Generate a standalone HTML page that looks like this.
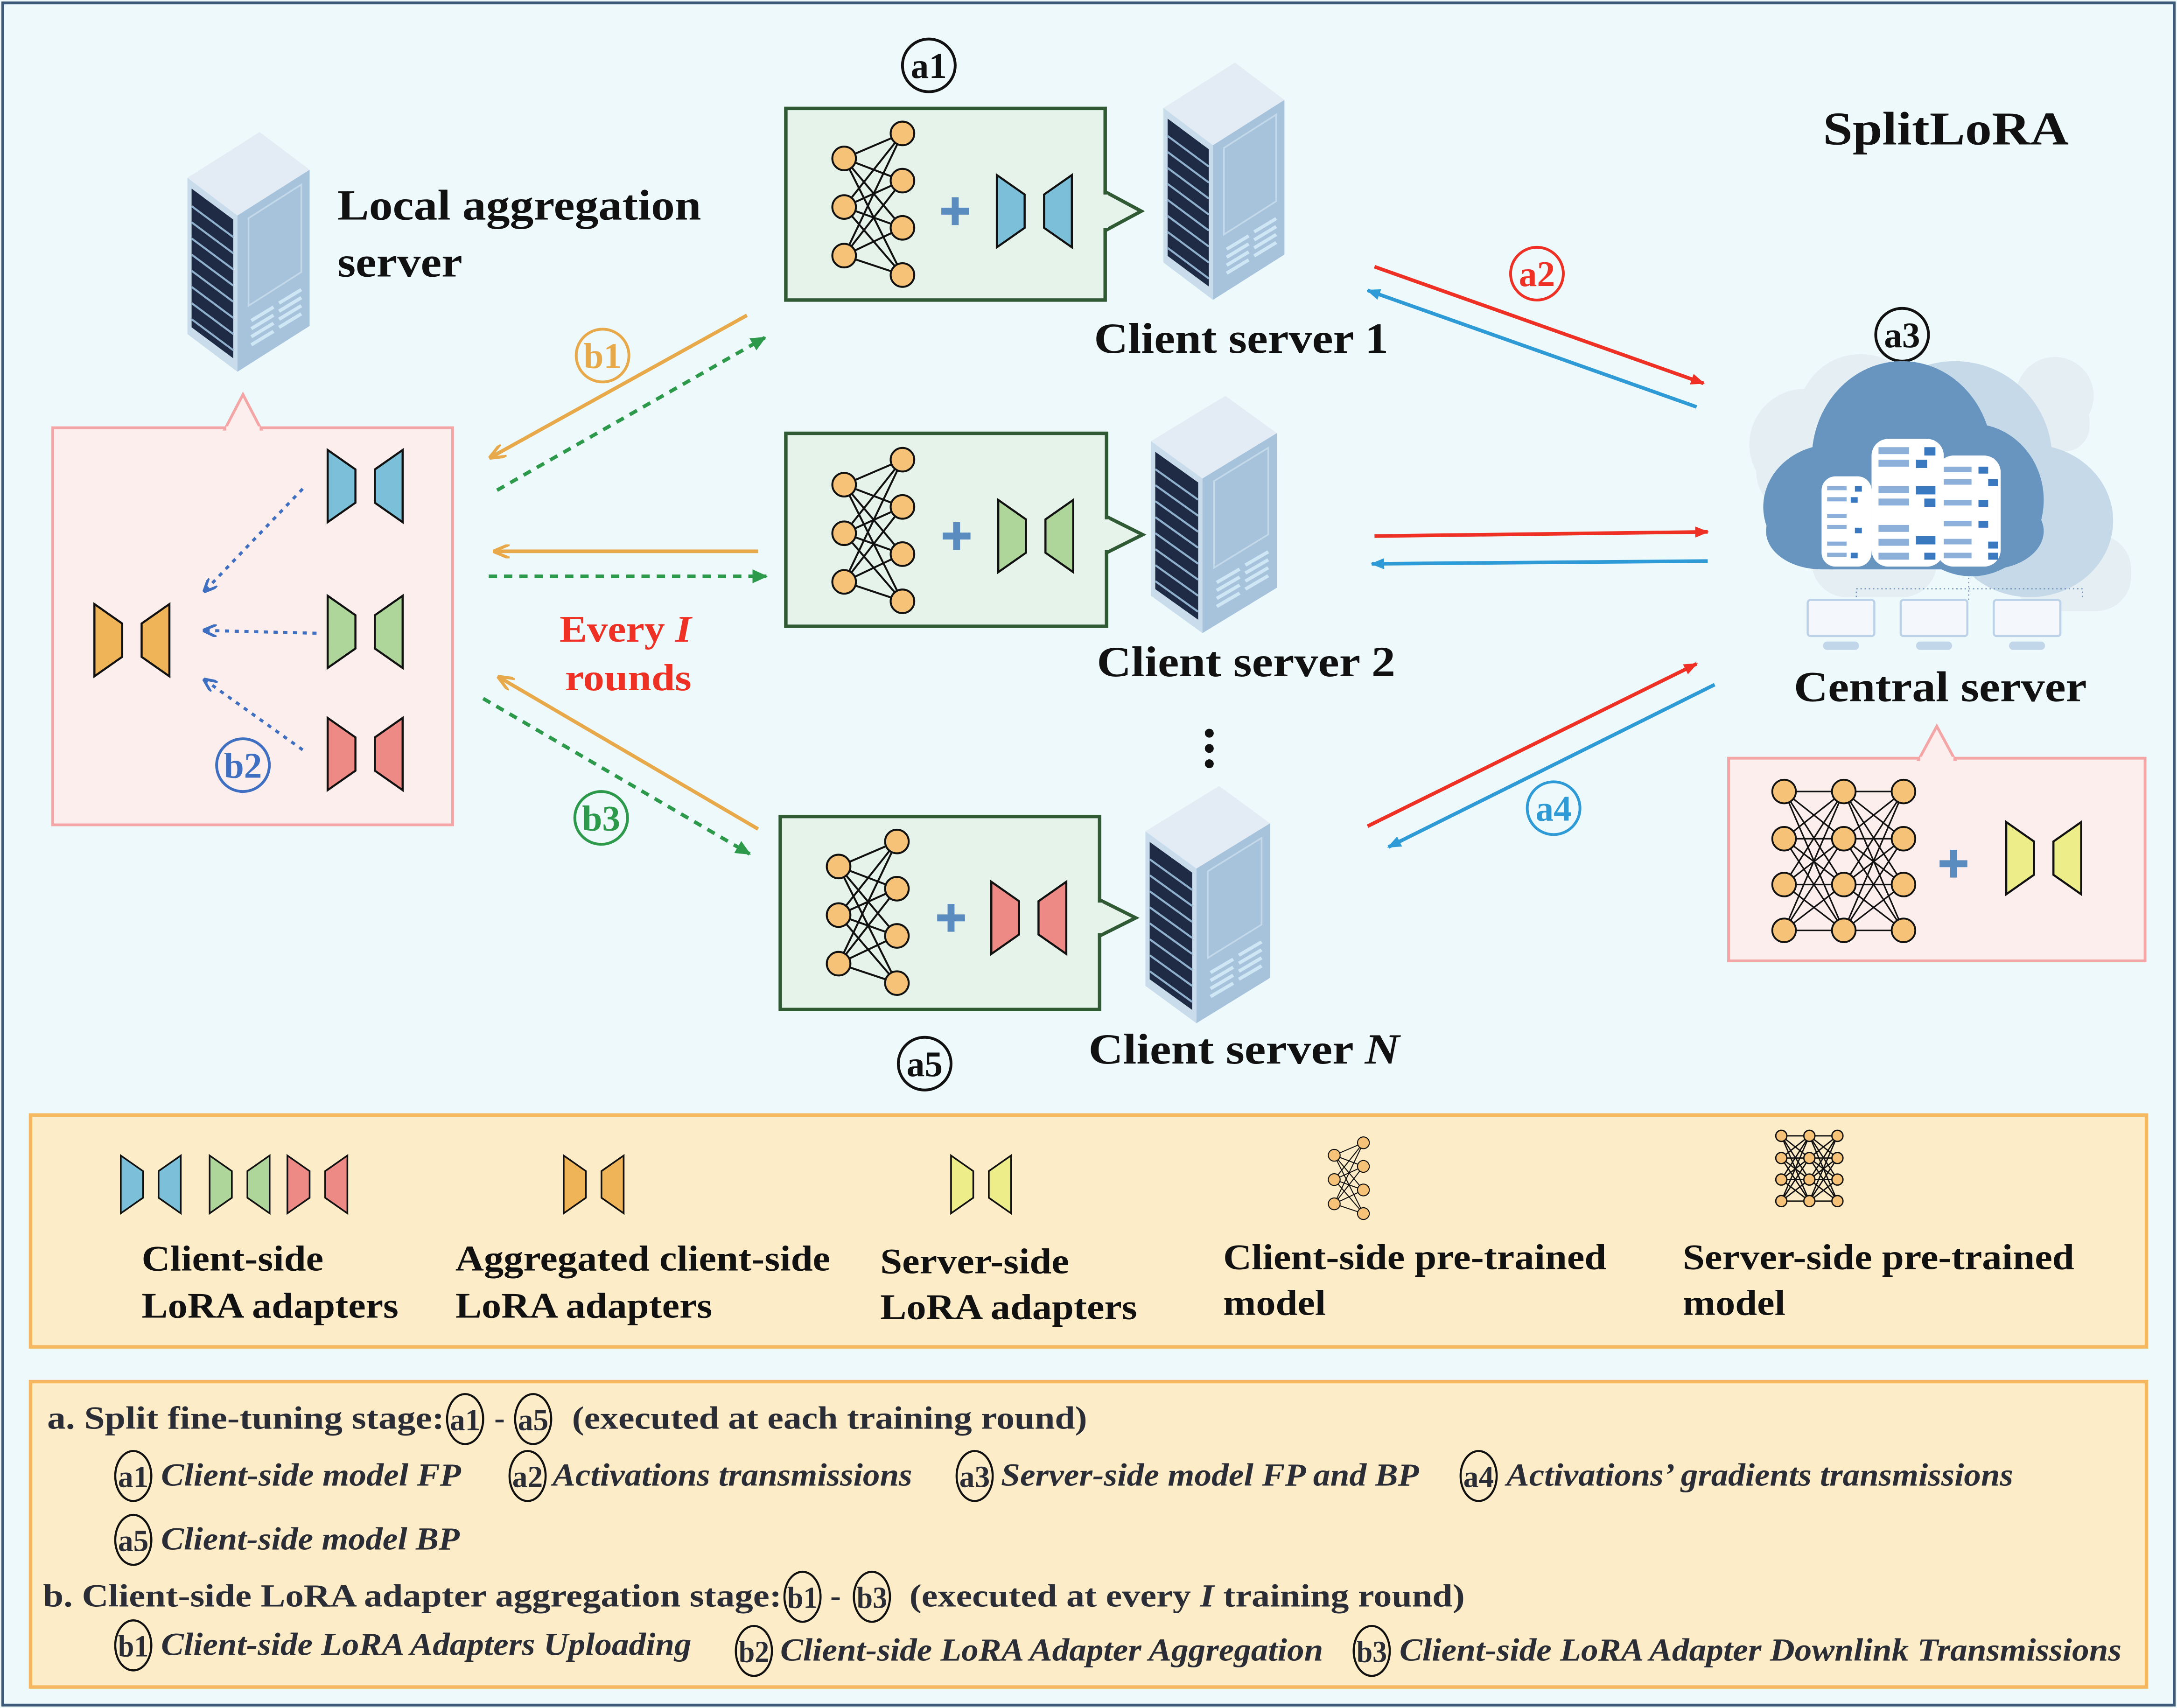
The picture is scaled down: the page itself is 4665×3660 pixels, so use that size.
<!DOCTYPE html>
<html><head><meta charset="utf-8"><style>
html,body{margin:0;padding:0;background:#eef9fb}
svg{display:block}
text{font-family:"Liberation Serif",serif;font-weight:bold}
</style></head><body>
<svg xmlns="http://www.w3.org/2000/svg" width="4665" height="3660" viewBox="0 0 1568 1230">
<defs>
<g id="srv">
  <polygon points="0,34 52,0 88,28 36,62" fill="#e3ecf4"/>
  <polygon points="0,34 36,62 36,178 0,150" fill="#c8dcec"/>
  <polygon points="3,42 33,65 33,168 3,145" fill="#1f2a44"/>
  <g stroke="#8fb0cc" stroke-width="1.5">
    <line x1="3" y1="55" x2="33" y2="78"/><line x1="3" y1="67" x2="33" y2="90"/>
    <line x1="3" y1="79" x2="33" y2="102"/><line x1="3" y1="91" x2="33" y2="114"/>
    <line x1="3" y1="103" x2="33" y2="126"/><line x1="3" y1="115" x2="33" y2="138"/>
    <line x1="3" y1="127" x2="33" y2="150"/><line x1="3" y1="139" x2="33" y2="162"/>
  </g>
  <polygon points="36,62 88,28 88,144 36,178" fill="#a7c3dc"/>
  <polygon points="44,64 82,39 82,104 44,129" fill="none" stroke="#c3d9ea" stroke-width="1.2"/>
  <g stroke="#cfe6f5" stroke-width="2.5">
    <line x1="46" y1="140" x2="62" y2="130"/><line x1="46" y1="146" x2="62" y2="136"/>
    <line x1="46" y1="152" x2="62" y2="142"/><line x1="46" y1="158" x2="62" y2="148"/>
    <line x1="66" y1="127" x2="82" y2="117"/><line x1="66" y1="133" x2="82" y2="123"/>
    <line x1="66" y1="139" x2="82" y2="129"/><line x1="66" y1="145" x2="82" y2="135"/>
  </g>
</g>
<g id="net">
  <g stroke="#111" stroke-width="1.4">
    <line x1="0" y1="0" x2="42" y2="-18"/><line x1="0" y1="0" x2="42" y2="16"/><line x1="0" y1="0" x2="42" y2="50"/><line x1="0" y1="0" x2="42" y2="84"/>
    <line x1="0" y1="35" x2="42" y2="-18"/><line x1="0" y1="35" x2="42" y2="16"/><line x1="0" y1="35" x2="42" y2="50"/><line x1="0" y1="35" x2="42" y2="84"/>
    <line x1="0" y1="70" x2="42" y2="-18"/><line x1="0" y1="70" x2="42" y2="16"/><line x1="0" y1="70" x2="42" y2="50"/><line x1="0" y1="70" x2="42" y2="84"/>
  </g>
  <g fill="#f6c278" stroke="#111" stroke-width="1.4">
    <circle cx="0" cy="0" r="8.5"/><circle cx="0" cy="35" r="8.5"/><circle cx="0" cy="70" r="8.5"/>
    <circle cx="42" cy="-18" r="8.5"/><circle cx="42" cy="16" r="8.5"/><circle cx="42" cy="50" r="8.5"/><circle cx="42" cy="84" r="8.5"/>
  </g>
</g>
<g id="plus"><rect x="-2.5" y="-10" width="5" height="20" fill="#5b8cc0"/><rect x="-10" y="-2.5" width="20" height="5" fill="#5b8cc0"/></g>
<g id="adp" stroke="#111" stroke-width="1.5">
  <polygon points="0,-26 20,-12 20,12 0,26"/>
  <polygon points="34,-12 54,-26 54,26 34,12"/>
</g>
<marker id="ar" markerWidth="10" markerHeight="8" refX="9" refY="4" orient="auto" markerUnits="userSpaceOnUse" viewBox="0 0 10 8"><path d="M0,0 L10,4 L0,8 z" fill="#ee3124"/></marker>
<marker id="ab" markerWidth="10" markerHeight="8" refX="9" refY="4" orient="auto" markerUnits="userSpaceOnUse" viewBox="0 0 10 8"><path d="M0,0 L10,4 L0,8 z" fill="#2e9ad6"/></marker>
<marker id="ao" markerWidth="12" markerHeight="10" refX="10" refY="5" orient="auto" markerUnits="userSpaceOnUse" viewBox="0 0 12 10"><path d="M0,0 L12,5 L0,10" fill="none" stroke="#e8a94a" stroke-width="2.2"/></marker>
<marker id="ag" markerWidth="11" markerHeight="10" refX="10" refY="5" orient="auto" markerUnits="userSpaceOnUse" viewBox="0 0 11 10"><path d="M0,0 L11,5 L0,10 z" fill="#2c9a4a"/></marker>
<marker id="adb" markerWidth="10" markerHeight="9" refX="8" refY="4.5" orient="auto" markerUnits="userSpaceOnUse" viewBox="0 0 10 9"><path d="M0,0 L10,4.5 L0,9" fill="none" stroke="#3f6fc0" stroke-width="2"/></marker>
</defs>

<rect x="0" y="0" width="1568" height="1230" fill="#eef9fb"/>
<rect x="2" y="2" width="1564" height="1226" fill="none" stroke="#3d5a78" stroke-width="2"/>

<text x="1313" y="104" font-size="34" fill="#111" textLength="177" lengthAdjust="spacingAndGlyphs">SplitLoRA</text>

<use href="#srv" transform="translate(135,95) scale(1.0,0.97)"/>
<text x="243" y="158" font-size="31" fill="#111" textLength="262" lengthAdjust="spacingAndGlyphs">Local aggregation</text>
<text x="243" y="199" font-size="31" fill="#111" textLength="90" lengthAdjust="spacingAndGlyphs">server</text>

<rect x="38" y="308" width="288" height="286" fill="#fdeeee" stroke="#f4a6a6" stroke-width="2"/>
<polygon points="162,309 175,284 188,309" fill="#fdeeee" stroke="#f4a6a6" stroke-width="2"/>
<rect x="163" y="307" width="24" height="4" fill="#fdeeee"/>
<use href="#adp" transform="translate(236,350)" fill="#7bbfd8"/>
<use href="#adp" transform="translate(236,455)" fill="#aed69b"/>
<use href="#adp" transform="translate(236,543)" fill="#ee8a85"/>
<use href="#adp" transform="translate(68,461)" fill="#f0b458"/>
<g stroke="#3f6fc0" stroke-width="2.2" stroke-dasharray="3,4" fill="none">
  <line x1="218" y1="352" x2="148" y2="425" marker-end="url(#adb)"/>
  <line x1="228" y1="456" x2="148" y2="454" marker-end="url(#adb)"/>
  <line x1="218" y1="540" x2="148" y2="490" marker-end="url(#adb)"/>
</g>

<g fill="#e6f3eb" stroke="#2f5a33" stroke-width="2.5">
  <rect x="566" y="78" width="230" height="138"/>
  <polygon points="796,138 822,152 796,166"/>
  <rect x="566" y="312" width="231" height="139"/>
  <polygon points="797,372 823,385 797,398"/>
  <rect x="562" y="588" width="230" height="139"/>
  <polygon points="792,648 818,661 792,674"/>
</g>
<rect x="793" y="140" width="5" height="24" fill="#e6f3eb"/>
<rect x="794" y="374" width="5" height="22" fill="#e6f3eb"/>
<rect x="789" y="650" width="5" height="22" fill="#e6f3eb"/>
<use href="#net" transform="translate(608,114)"/>
<use href="#net" transform="translate(608,349)"/>
<use href="#net" transform="translate(604,624)"/>
<use href="#plus" transform="translate(688,152)"/>
<use href="#plus" transform="translate(689,386)"/>
<use href="#plus" transform="translate(685,661)"/>
<use href="#adp" transform="translate(718,152)" fill="#7bbfd8"/>
<use href="#adp" transform="translate(719,386)" fill="#aed69b"/>
<use href="#adp" transform="translate(714,661)" fill="#ee8a85"/>

<use href="#srv" transform="translate(838,45) scale(0.99,0.96)"/>
<use href="#srv" transform="translate(829,285) scale(1.03,0.96)"/>
<use href="#srv" transform="translate(825,566) scale(1.02,0.96)"/>

<text x="788" y="254" font-size="31" fill="#111" textLength="212" lengthAdjust="spacingAndGlyphs">Client server 1</text>
<text x="790" y="487" font-size="31" fill="#111" textLength="215" lengthAdjust="spacingAndGlyphs">Client server 2</text>
<text x="784" y="766" font-size="31" fill="#111" textLength="224" lengthAdjust="spacingAndGlyphs">Client server <tspan font-style="italic">N</tspan></text>
<g fill="#111"><circle cx="871" cy="528" r="3.2"/><circle cx="871" cy="539" r="3.2"/><circle cx="871" cy="550" r="3.2"/></g>

<g font-size="26">
  <circle cx="669" cy="47" r="19" fill="none" stroke="#111" stroke-width="2"/><text x="669" y="56" text-anchor="middle" fill="#111">a1</text>
  <circle cx="666" cy="766" r="19" fill="none" stroke="#111" stroke-width="2"/><text x="666" y="775" text-anchor="middle" fill="#111">a5</text>
  <circle cx="1370" cy="241" r="19" fill="none" stroke="#111" stroke-width="2"/><text x="1370" y="250" text-anchor="middle" fill="#111">a3</text>
  <circle cx="1107" cy="197" r="19" fill="none" stroke="#ee3124" stroke-width="2"/><text x="1107" y="206" text-anchor="middle" fill="#ee3124">a2</text>
  <circle cx="1119" cy="582" r="19" fill="none" stroke="#2e9ad6" stroke-width="2"/><text x="1119" y="591" text-anchor="middle" fill="#2e9ad6">a4</text>
  <circle cx="434" cy="256" r="19" fill="none" stroke="#e8a94a" stroke-width="2"/><text x="434" y="265" text-anchor="middle" fill="#e8a94a">b1</text>
  <circle cx="175" cy="551" r="19" fill="none" stroke="#3f6fc0" stroke-width="2"/><text x="175" y="560" text-anchor="middle" fill="#3f6fc0">b2</text>
  <circle cx="433" cy="589" r="19" fill="none" stroke="#2c9a4a" stroke-width="2"/><text x="433" y="598" text-anchor="middle" fill="#2c9a4a">b3</text>
</g>
<text x="403" y="462" font-size="27" fill="#ee3124" textLength="95" lengthAdjust="spacingAndGlyphs">Every <tspan font-style="italic">I</tspan></text>
<text x="407" y="497" font-size="27" fill="#ee3124" textLength="91" lengthAdjust="spacingAndGlyphs">rounds</text>

<g stroke-width="2.6" fill="none">
  <line x1="990" y1="192" x2="1227" y2="276" stroke="#ee3124" marker-end="url(#ar)"/>
  <line x1="1222" y1="293" x2="985" y2="209" stroke="#2e9ad6" marker-end="url(#ab)"/>
  <line x1="990" y1="386" x2="1230" y2="383" stroke="#ee3124" marker-end="url(#ar)"/>
  <line x1="1230" y1="404" x2="988" y2="406" stroke="#2e9ad6" marker-end="url(#ab)"/>
  <line x1="985" y1="595" x2="1222" y2="478" stroke="#ee3124" marker-end="url(#ar)"/>
  <line x1="1235" y1="493" x2="1000" y2="610" stroke="#2e9ad6" marker-end="url(#ab)"/>
</g>
<g stroke-width="2.6" fill="none">
  <line x1="538" y1="227" x2="354" y2="329" stroke="#e8a94a" marker-end="url(#ao)"/>
  <line x1="358" y1="353" x2="551" y2="243" stroke="#2c9a4a" stroke-dasharray="6,5" marker-end="url(#ag)"/>
  <line x1="546" y1="397" x2="357" y2="397" stroke="#e8a94a" marker-end="url(#ao)"/>
  <line x1="352" y1="415" x2="552" y2="415" stroke="#2c9a4a" stroke-dasharray="6,5" marker-end="url(#ag)"/>
  <line x1="546" y1="597" x2="360" y2="488" stroke="#e8a94a" marker-end="url(#ao)"/>
  <line x1="348" y1="503" x2="540" y2="615" stroke="#2c9a4a" stroke-dasharray="6,5" marker-end="url(#ag)"/>
</g>

<g fill="#e4eef3">
  <circle cx="1300" cy="320" r="40"/><circle cx="1340" cy="300" r="45"/><rect x="1265" y="300" width="120" height="70" rx="30"/>
  <circle cx="1480" cy="285" r="28"/><circle cx="1465" cy="305" r="25"/><rect x="1440" y="285" width="65" height="40" rx="18"/>
  <rect x="1450" y="385" width="85" height="55" rx="25"/><rect x="1305" y="380" width="90" height="50" rx="25"/>
</g>
<g fill="#c6d9e8">
  <ellipse cx="1408" cy="330" rx="70" ry="70"/><ellipse cx="1462" cy="375" rx="60" ry="55"/><rect x="1330" y="340" width="190" height="70" rx="30"/>
</g>
<g fill="#6795c0">
  <ellipse cx="1370" cy="330" rx="65" ry="70"/><ellipse cx="1420" cy="360" rx="52" ry="55"/><ellipse cx="1320" cy="365" rx="50" ry="45"/>
  <rect x="1272" y="355" width="200" height="55" rx="40"/>
</g>
<g>
  <rect x="1312" y="343" width="36" height="65" rx="10" fill="#fff"/>
  <rect x="1348" y="316" width="52" height="92" rx="12" fill="#fff"/>
  <rect x="1395" y="328" width="46" height="80" rx="12" fill="#fff"/>
  <g fill="#8cb0da">
    <rect x="1316" y="350" width="14" height="3"/><rect x="1316" y="358" width="14" height="3"/><rect x="1316" y="370" width="14" height="3"/><rect x="1316" y="378" width="14" height="3"/><rect x="1316" y="390" width="14" height="3"/><rect x="1316" y="398" width="14" height="3"/>
    <rect x="1353" y="322" width="22" height="5"/><rect x="1353" y="331" width="22" height="5"/><rect x="1353" y="350" width="22" height="5"/><rect x="1353" y="359" width="22" height="5"/><rect x="1353" y="378" width="22" height="5"/><rect x="1353" y="388" width="22" height="5"/><rect x="1353" y="398" width="22" height="5"/>
    <rect x="1400" y="336" width="20" height="4"/><rect x="1400" y="345" width="20" height="4"/><rect x="1400" y="360" width="20" height="4"/><rect x="1400" y="375" width="20" height="4"/><rect x="1400" y="388" width="20" height="4"/><rect x="1400" y="398" width="20" height="4"/>
  </g>
  <g fill="#3a78c0">
    <rect x="1336" y="350" width="5" height="4"/><rect x="1333" y="358" width="5" height="4"/><rect x="1336" y="380" width="5" height="4"/><rect x="1333" y="398" width="5" height="4"/>
    <rect x="1386" y="322" width="8" height="6"/><rect x="1380" y="331" width="8" height="6"/><rect x="1380" y="350" width="14" height="6"/><rect x="1386" y="359" width="8" height="6"/><rect x="1380" y="386" width="14" height="6"/><rect x="1386" y="398" width="8" height="5"/>
    <rect x="1425" y="336" width="7" height="5"/><rect x="1432" y="345" width="7" height="5"/><rect x="1425" y="360" width="7" height="5"/><rect x="1425" y="375" width="7" height="5"/><rect x="1432" y="390" width="7" height="5"/><rect x="1432" y="398" width="7" height="5"/>
  </g>
</g>
<g stroke="#6f8fb5" stroke-width="0.8" stroke-dasharray="1,2" fill="none">
  <path d="M1337,430 V424 H1500 V430 M1418,413 V432"/>
</g>
<g fill="#f4f8fc" stroke="#bcd2e8" stroke-width="1.5">
  <rect x="1302" y="432" width="48" height="26" rx="2"/><rect x="1369" y="432" width="48" height="26" rx="2"/><rect x="1436" y="432" width="48" height="26" rx="2"/>
</g>
<g fill="#c2d6ea"><rect x="1313" y="462" width="26" height="6" rx="3"/><rect x="1380" y="462" width="26" height="6" rx="3"/><rect x="1447" y="462" width="26" height="6" rx="3"/></g>
<text x="1292" y="505" font-size="31" fill="#111" textLength="211" lengthAdjust="spacingAndGlyphs">Central server</text>

<rect x="1245" y="546" width="300" height="146" fill="#fdeeee" stroke="#f4a6a6" stroke-width="2"/>
<polygon points="1382,547 1395,523 1408,547" fill="#fdeeee" stroke="#f4a6a6" stroke-width="2"/>
<rect x="1383" y="545" width="24" height="4" fill="#fdeeee"/>
<g stroke="#111" stroke-width="1.1">
  <path d="M1285,570 L1328,604 M1285,570 L1328,637 M1285,570 L1328,670 M1285,604 L1328,570 M1285,604 L1328,637 M1285,604 L1328,670 M1285,637 L1328,570 M1285,637 L1328,604 M1285,637 L1328,670 M1285,670 L1328,570 M1285,670 L1328,604 M1285,670 L1328,637 M1285,570 H1371 M1285,604 H1371 M1285,637 H1371 M1285,670 H1371"/>
  <path d="M1328,570 L1371,604 M1328,570 L1371,637 M1328,570 L1371,670 M1328,604 L1371,570 M1328,604 L1371,637 M1328,604 L1371,670 M1328,637 L1371,570 M1328,637 L1371,604 M1328,637 L1371,670 M1328,670 L1371,570 M1328,670 L1371,604 M1328,670 L1371,637"/>
</g>
<g fill="#f6c278" stroke="#111" stroke-width="1.3">
  <circle cx="1285" cy="570" r="8.5"/><circle cx="1285" cy="604" r="8.5"/><circle cx="1285" cy="637" r="8.5"/><circle cx="1285" cy="670" r="8.5"/>
  <circle cx="1328" cy="570" r="8.5"/><circle cx="1328" cy="604" r="8.5"/><circle cx="1328" cy="637" r="8.5"/><circle cx="1328" cy="670" r="8.5"/>
  <circle cx="1371" cy="570" r="8.5"/><circle cx="1371" cy="604" r="8.5"/><circle cx="1371" cy="637" r="8.5"/><circle cx="1371" cy="670" r="8.5"/>
</g>
<use href="#plus" transform="translate(1407,622)"/>
<use href="#adp" transform="translate(1445,618)" fill="#eded8a"/>

<rect x="22" y="803" width="1524" height="167" fill="#fdecc8" stroke="#f5b860" stroke-width="2.5"/>
<g transform="translate(87,853) scale(0.8)">
  <use href="#adp" fill="#7bbfd8"/>
  <use href="#adp" transform="translate(80,0)" fill="#aed69b"/>
  <use href="#adp" transform="translate(150,0)" fill="#ee8a85"/>
</g>
<use href="#adp" transform="translate(406,853) scale(0.8)" fill="#f0b458"/>
<use href="#adp" transform="translate(685,853) scale(0.8)" fill="#eded8a"/>
<use href="#net" transform="translate(961,832) scale(0.5)"/>
<g transform="translate(1283,818) scale(0.47)">
  <g stroke="#111" stroke-width="2">
    <path d="M0,0 L43,34 M0,0 L43,67 M0,0 L43,100 M0,34 L43,0 M0,34 L43,67 M0,34 L43,100 M0,67 L43,0 M0,67 L43,34 M0,67 L43,100 M0,100 L43,0 M0,100 L43,34 M0,100 L43,67 M0,0 H86 M0,34 H86 M0,67 H86 M0,100 H86"/>
    <path d="M43,0 L86,34 M43,0 L86,67 M43,0 L86,100 M43,34 L86,0 M43,34 L86,67 M43,34 L86,100 M43,67 L86,0 M43,67 L86,34 M43,67 L86,100 M43,100 L86,0 M43,100 L86,34 M43,100 L86,67"/>
  </g>
  <g fill="#f6c278" stroke="#111" stroke-width="2">
    <circle cx="0" cy="0" r="8.5"/><circle cx="0" cy="34" r="8.5"/><circle cx="0" cy="67" r="8.5"/><circle cx="0" cy="100" r="8.5"/>
    <circle cx="43" cy="0" r="8.5"/><circle cx="43" cy="34" r="8.5"/><circle cx="43" cy="67" r="8.5"/><circle cx="43" cy="100" r="8.5"/>
    <circle cx="86" cy="0" r="8.5"/><circle cx="86" cy="34" r="8.5"/><circle cx="86" cy="67" r="8.5"/><circle cx="86" cy="100" r="8.5"/>
  </g>
</g>
<g font-size="26" fill="#111" lengthAdjust="spacingAndGlyphs">
  <text x="102" y="915" textLength="131" lengthAdjust="spacingAndGlyphs">Client-side</text><text x="102" y="949" textLength="185" lengthAdjust="spacingAndGlyphs">LoRA adapters</text>
  <text x="328" y="915" textLength="270" lengthAdjust="spacingAndGlyphs">Aggregated client-side</text><text x="328" y="949" textLength="185" lengthAdjust="spacingAndGlyphs">LoRA adapters</text>
  <text x="634" y="917" textLength="136" lengthAdjust="spacingAndGlyphs">Server-side</text><text x="634" y="950" textLength="185" lengthAdjust="spacingAndGlyphs">LoRA adapters</text>
  <text x="881" y="914" textLength="276" lengthAdjust="spacingAndGlyphs">Client-side pre-trained</text><text x="881" y="947" textLength="74" lengthAdjust="spacingAndGlyphs">model</text>
  <text x="1212" y="914" textLength="282" lengthAdjust="spacingAndGlyphs">Server-side pre-trained</text><text x="1212" y="947" textLength="74" lengthAdjust="spacingAndGlyphs">model</text>
</g>

<rect x="22" y="995" width="1524" height="220" fill="#fdecc8" stroke="#f5b860" stroke-width="2.5"/>
<g fill="#2a2d35" font-size="23">
  <text x="34" y="1029" textLength="286" lengthAdjust="spacingAndGlyphs">a. Split fine-tuning stage:</text>
  <text x="412" y="1029" textLength="371" lengthAdjust="spacingAndGlyphs">(executed at each training round)</text>
  <text x="356" y="1029">-</text>
  <text x="31" y="1157" textLength="532" lengthAdjust="spacingAndGlyphs">b. Client-side LoRA adapter aggregation stage:</text>
  <text x="598" y="1157">-</text>
  <text x="655" y="1157" textLength="400" lengthAdjust="spacingAndGlyphs">(executed at every <tspan font-style="italic">I</tspan> training round)</text>
</g>
<g fill="#2a2d35" font-size="23" font-style="italic">
  <text x="116" y="1070" textLength="216" lengthAdjust="spacingAndGlyphs">Client-side model FP</text>
  <text x="398" y="1070" textLength="259" lengthAdjust="spacingAndGlyphs">Activations transmissions</text>
  <text x="721" y="1070" textLength="301" lengthAdjust="spacingAndGlyphs">Server-side model FP and BP</text>
  <text x="1085" y="1070" textLength="365" lengthAdjust="spacingAndGlyphs">Activations’ gradients transmissions</text>
  <text x="116" y="1116" textLength="215" lengthAdjust="spacingAndGlyphs">Client-side model BP</text>
  <text x="116" y="1192" textLength="382" lengthAdjust="spacingAndGlyphs">Client-side LoRA Adapters Uploading</text>
  <text x="562" y="1196" textLength="391" lengthAdjust="spacingAndGlyphs">Client-side LoRA Adapter Aggregation</text>
  <text x="1008" y="1196" textLength="520" lengthAdjust="spacingAndGlyphs">Client-side LoRA Adapter Downlink Transmissions</text>
</g>
<g fill="none" stroke="#111" stroke-width="1.5">
  <ellipse cx="335" cy="1022" rx="13" ry="18"/><ellipse cx="384" cy="1022" rx="13" ry="18"/>
  <ellipse cx="96" cy="1063" rx="13" ry="18"/><ellipse cx="380" cy="1063" rx="13" ry="18"/><ellipse cx="702" cy="1063" rx="13" ry="18"/><ellipse cx="1065" cy="1063" rx="13" ry="18"/>
  <ellipse cx="96" cy="1109" rx="13" ry="18"/>
  <ellipse cx="578" cy="1150" rx="13" ry="18"/><ellipse cx="628" cy="1150" rx="13" ry="18"/>
  <ellipse cx="96" cy="1185" rx="13" ry="18"/><ellipse cx="543" cy="1189" rx="13" ry="18"/><ellipse cx="988" cy="1189" rx="13" ry="18"/>
</g>
<g fill="#2a2d35" font-size="22" text-anchor="middle">
  <text x="335" y="1030" textLength="22" lengthAdjust="spacingAndGlyphs">a1</text><text x="384" y="1030" textLength="22" lengthAdjust="spacingAndGlyphs">a5</text>
  <text x="96" y="1071" textLength="22" lengthAdjust="spacingAndGlyphs">a1</text><text x="380" y="1071" textLength="22" lengthAdjust="spacingAndGlyphs">a2</text><text x="702" y="1071" textLength="22" lengthAdjust="spacingAndGlyphs">a3</text><text x="1065" y="1071" textLength="22" lengthAdjust="spacingAndGlyphs">a4</text>
  <text x="96" y="1117" textLength="22" lengthAdjust="spacingAndGlyphs">a5</text>
  <text x="578" y="1158" textLength="22" lengthAdjust="spacingAndGlyphs">b1</text><text x="628" y="1158" textLength="22" lengthAdjust="spacingAndGlyphs">b3</text>
  <text x="96" y="1193" textLength="22" lengthAdjust="spacingAndGlyphs">b1</text><text x="543" y="1197" textLength="22" lengthAdjust="spacingAndGlyphs">b2</text><text x="988" y="1197" textLength="22" lengthAdjust="spacingAndGlyphs">b3</text>
</g>
</svg>
</body></html>
